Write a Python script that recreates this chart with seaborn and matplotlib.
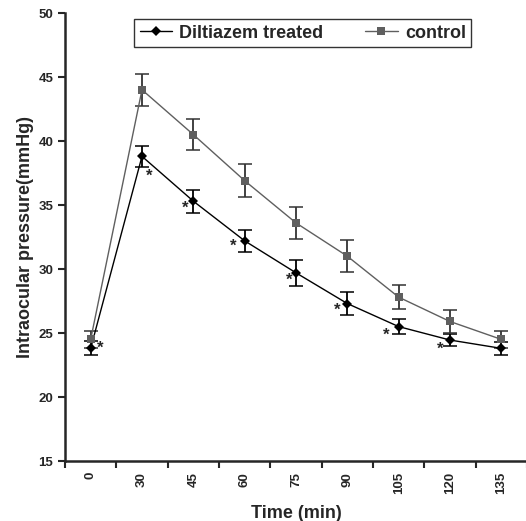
import matplotlib
matplotlib.use("Agg")
import matplotlib.pyplot as plt
import pandas as pd
import seaborn as sns

sns.set_style("ticks")
plt.rcParams['font.family'] = ['Liberation Sans', 'DejaVu Sans']

# data
time_labels = ['0', '30', '45', '60', '75', '90', '105', '120', '135']
diltiazem = [23.8, 38.8, 35.3, 32.2, 29.7, 27.3, 25.5, 24.45, 23.8]
diltiazem_err = [0.55, 0.8, 0.9, 0.85, 1.0, 0.9, 0.6, 0.45, 0.5]
control = [24.5, 44.0, 40.5, 36.9, 33.6, 31.0, 27.8, 25.9, 24.5]
control_err = [0.67, 1.27, 1.2, 1.3, 1.27, 1.25, 0.95, 0.9, 0.67]
# asterisk offsets (points) next to diltiazem means
star_dx = [7, 5, -6, -8, -5, -7, -9, -7, None]
star_dy = [0, -14, -5, -4, -5, -5, -6, -7, None]

pos = list(range(len(time_labels)))
df = pd.DataFrame({
    'pos': pos * 2,
    'iop': diltiazem + control,
    'group': ['Diltiazem treated'] * len(pos) + ['control'] * len(pos),
})

fig = plt.figure(figsize=(5.26, 5.21), dpi=100)
ax = fig.add_axes([65 / 526, 60 / 521, 462 / 526, 448 / 521])

ax.errorbar(pos, diltiazem, yerr=diltiazem_err, fmt='none', ecolor='black',
            elinewidth=1.3, capsize=5, capthick=1.1, zorder=2)
ax.errorbar(pos, control, yerr=control_err, fmt='none', ecolor='#333333',
            elinewidth=1.3, capsize=5, capthick=1.1, zorder=2)

sns.lineplot(data=df, x='pos', y='iop', hue='group', style='group',
             palette={'Diltiazem treated': 'black', 'control': '#5f5f5f'},
             markers={'Diltiazem treated': 'D', 'control': 's'},
             dashes=False, markersize=6, markeredgewidth=0,
             linewidth=1.0, ax=ax, zorder=3)
for ln in ax.get_lines():
    if ln.get_marker() == 'D':
        ln.set_markersize(5.5)

for i in pos:
    if star_dx[i] is None:
        continue
    ax.annotate('*', (i, diltiazem[i]), xytext=(star_dx[i], star_dy[i]),
                textcoords='offset points', ha='center', va='center',
                fontsize=12, fontweight='bold')

ax.set_xlim(-0.5, len(pos) - 0.5)
ax.set_ylim(15, 50)
ax.set_yticks([15, 20, 25, 30, 35, 40, 45, 50])
ax.set_xticks(pos)
ax.set_xticklabels(time_labels, rotation=90, fontsize=9.5, fontweight='bold')
ax.set_xticks([p - 0.5 for p in pos] + [len(pos) - 0.5], minor=True)
ax.tick_params(axis='x', which='major', length=0, pad=8)
ax.tick_params(axis='x', which='minor', length=5, width=1.5, direction='out')
ax.tick_params(axis='y', length=5, width=1.5, direction='out', labelsize=9.5)
for lab in ax.get_yticklabels():
    lab.set_fontweight('bold')

ax.spines['left'].set_linewidth(1.8)
ax.spines['bottom'].set_linewidth(1.8)
sns.despine(ax=ax)

ax.set_xlabel('Time (min)', fontsize=13, fontweight='bold', labelpad=8)
ax.set_ylabel('Intraocular pressure(mmHg)', fontsize=13, fontweight='bold',
              labelpad=3)

leg = ax.legend(loc='upper left', bbox_to_anchor=(0.15, 0.986), ncol=2,
                frameon=True, fancybox=False, edgecolor='black',
                prop={'weight': 'bold', 'size': 13}, handlelength=1.8,
                handletextpad=0.4, columnspacing=2.3, borderpad=0.3,
                borderaxespad=0)
leg.get_frame().set_linewidth(1.0)

fig.savefig('out.png', dpi=100)
